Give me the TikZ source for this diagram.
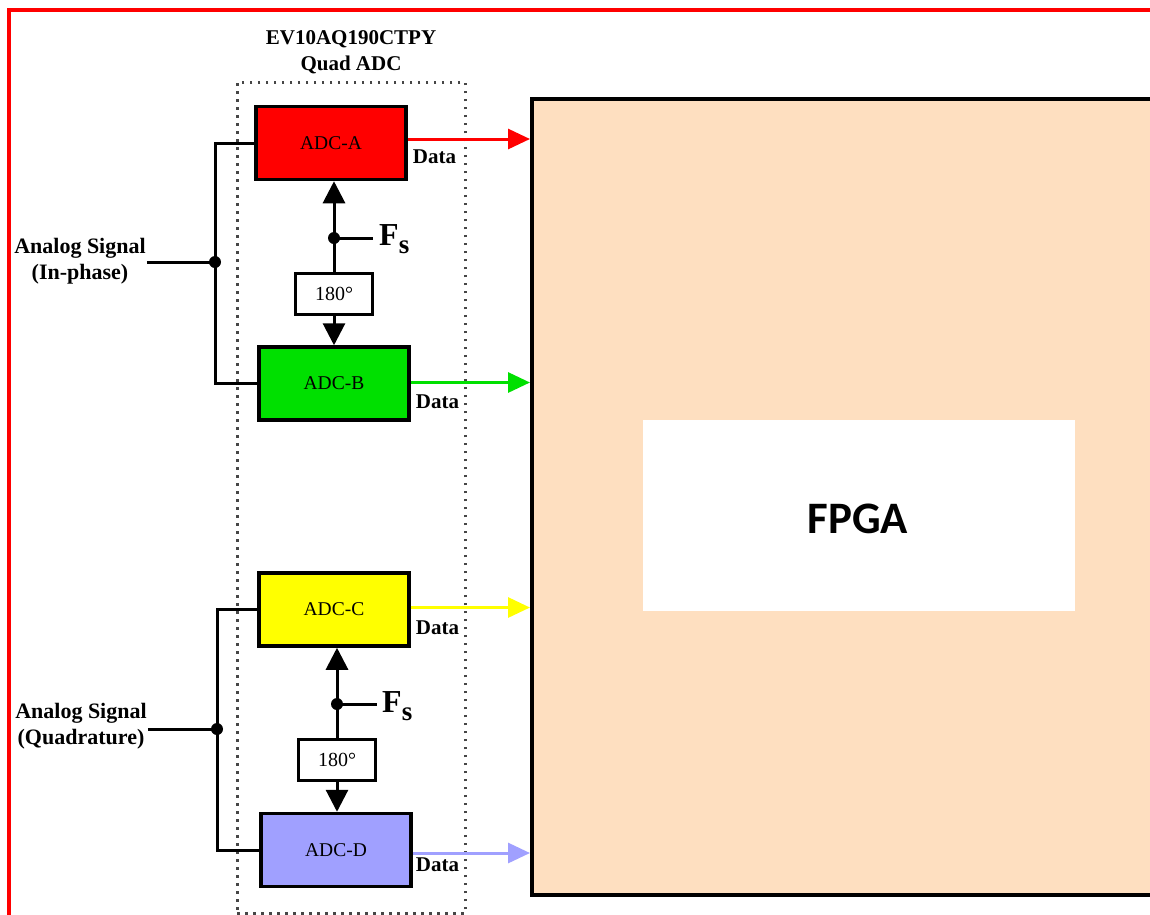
\documentclass[tikz,border=0pt]{standalone}
\usepackage{fontspec}
\setmainfont{Liberation Serif}
\newfontfamily\calib{Carlito}
\usetikzlibrary{arrows.meta,calc}
\definecolor{adcred}{RGB}{255,0,0}
\definecolor{adcgreen}{RGB}{0,224,0}
\definecolor{adcyellow}{RGB}{255,255,0}
\definecolor{adcblue}{RGB}{160,160,255}
\definecolor{fpgafill}{RGB}{254,223,192}
\definecolor{dotgray}{RGB}{70,70,70}
\begin{document}
\begin{tikzpicture}[x=1pt,y=-1pt,
  adc/.style={draw=black,line width=3.5pt,minimum width=150pt,minimum height=73pt,inner sep=0pt,font=\fontsize{19.5}{22}\selectfont},
  phasebox/.style={draw=black,line width=3pt,fill=white,minimum width=77pt,minimum height=41pt,inner sep=0pt,font=\fontsize{20}{22}\selectfont},
  wire/.style={line width=3pt},
  clk/.style={wire,-{Triangle[length=22pt,width=22pt]}},
  dataarr/.style={line width=3pt,-{Triangle[length=22pt,width=20pt]}},
  datalbl/.style={font=\fontsize{21}{24}\selectfont\bfseries,inner sep=0pt,anchor=west},
  siglbl/.style={font=\fontsize{22}{26}\selectfont\bfseries,align=center,inner sep=1pt},
  junction/.style={circle,fill=black,inner sep=0pt,minimum size=12pt},
  fslbl/.style={anchor=base west,inner sep=0pt,font=\fontsize{32}{32}\selectfont\bfseries},
  ]
\useasboundingbox (0,0) rectangle (1150,914);
\clip (0,0) rectangle (1150,914);
\fill[white] (0,0) rectangle (1150,914);

% red frame
\draw[adcred,line width=3.5pt] (9,10) rectangle (1200,1000);

% FPGA
\node[draw=black,line width=3.5pt,fill=fpgafill,anchor=north west,minimum width=680pt,minimum height=796pt,inner sep=0pt] (fpga) at (530,97) {};
\node[fill=white,minimum width=432pt,minimum height=191pt,inner sep=0pt] (core) at (859,515.5) {};
\node[font=\calib\bfseries\fontsize{45}{45}\selectfont] (fpgalbl) at (858,519) {FPGA};

% quad ADC dotted box and title
\node[draw=dotgray,line width=2.5pt,dash pattern=on 2.5pt off 5.5pt,anchor=north west,minimum width=228pt,minimum height=831pt,inner sep=0pt] (quad) at (236,81) {};
\node[font=\fontsize{21}{26}\selectfont\bfseries,align=center,inner sep=0pt] (title) at (351,52) {EV10AQ190CTPY\\Quad ADC};

% ADC blocks
\node[adc,fill=adcred] (A) at (331,143) {ADC-A};
\node[adc,fill=adcgreen] (B) at (334,383.5) {ADC-B};
\node[adc,fill=adcyellow] (C) at (334,609.5) {ADC-C};
\node[adc,fill=adcblue] (D) at (336,850) {ADC-D};

% phase shifters
\node[phasebox] (ph1) at (334,293.5) {180°};
\node[phasebox] (ph2) at (337,759.5) {180°};

% clock distribution (in-phase)
\node[junction] (f1) at (334,238) {};
\draw[clk] (f1.center) -- (f1.center |- A.south);
\draw[wire] (f1.center) -- (f1.center |- ph1.north);
\draw[wire] (f1.center) -- ++(39,0) coordinate (fe1);
\node[fslbl] (fs1) at ([shift={(6,7)}]fe1) {F\raisebox{-8pt}{\fontsize{27}{27}\selectfont s}};
\draw[clk] (f1.center |- ph1.south) -- (f1.center |- B.north);

% clock distribution (quadrature)
\node[junction] (f2) at (337,704) {};
\draw[clk] (f2.center) -- (f2.center |- C.south);
\draw[wire] (f2.center) -- (f2.center |- ph2.north);
\draw[wire] (f2.center) -- ++(40,0) coordinate (fe2);
\node[fslbl] (fs2) at ([shift={(5,8)}]fe2) {F\raisebox{-8pt}{\fontsize{27}{27}\selectfont s}};
\draw[clk] (f2.center |- ph2.south) -- (f2.center |- D.north);

% analog inputs
\node[siglbl] (sig1) at (80,261) {Analog Signal\\(In-phase)};
\node[junction] (j1) at (215,262) {};
\draw[wire] (sig1.east |- j1.center) -- (j1.center);
\draw[wire] (A.west) -| (j1.center) |- (B.west);

\node[siglbl] (sig2) at (81,726) {Analog Signal\\(Quadrature)};
\node[junction] (j2) at (217,729) {};
\draw[wire] (sig2.east |- j2.center) -- (j2.center);
\draw[wire] (C.west) -| (j2.center) |- (D.west);

% data outputs
\coordinate (ao) at ([yshift=4pt]A.east);
\coordinate (bo) at ([yshift=1pt]B.east);
\coordinate (co) at ([yshift=2pt]C.east);
\coordinate (do) at ([yshift=-3pt]D.east);
\draw[dataarr,adcred] (ao) -- (ao -| fpga.west);
\draw[dataarr,adcgreen] (bo) -- (bo -| fpga.west);
\draw[dataarr,adcyellow] (co) -- (co -| fpga.west);
\draw[dataarr,adcblue] (do) -- (do -| fpga.west);
\node[datalbl] (da) at ([shift={(5,14)}]A.east) {Data};
\node[datalbl] (db) at ([shift={(5,18)}]B.east) {Data};
\node[datalbl] (dc) at ([shift={(5,18)}]C.east) {Data};
\node[datalbl] (dd) at ([shift={(3,15)}]D.east) {Data};
\end{tikzpicture}
\end{document}
